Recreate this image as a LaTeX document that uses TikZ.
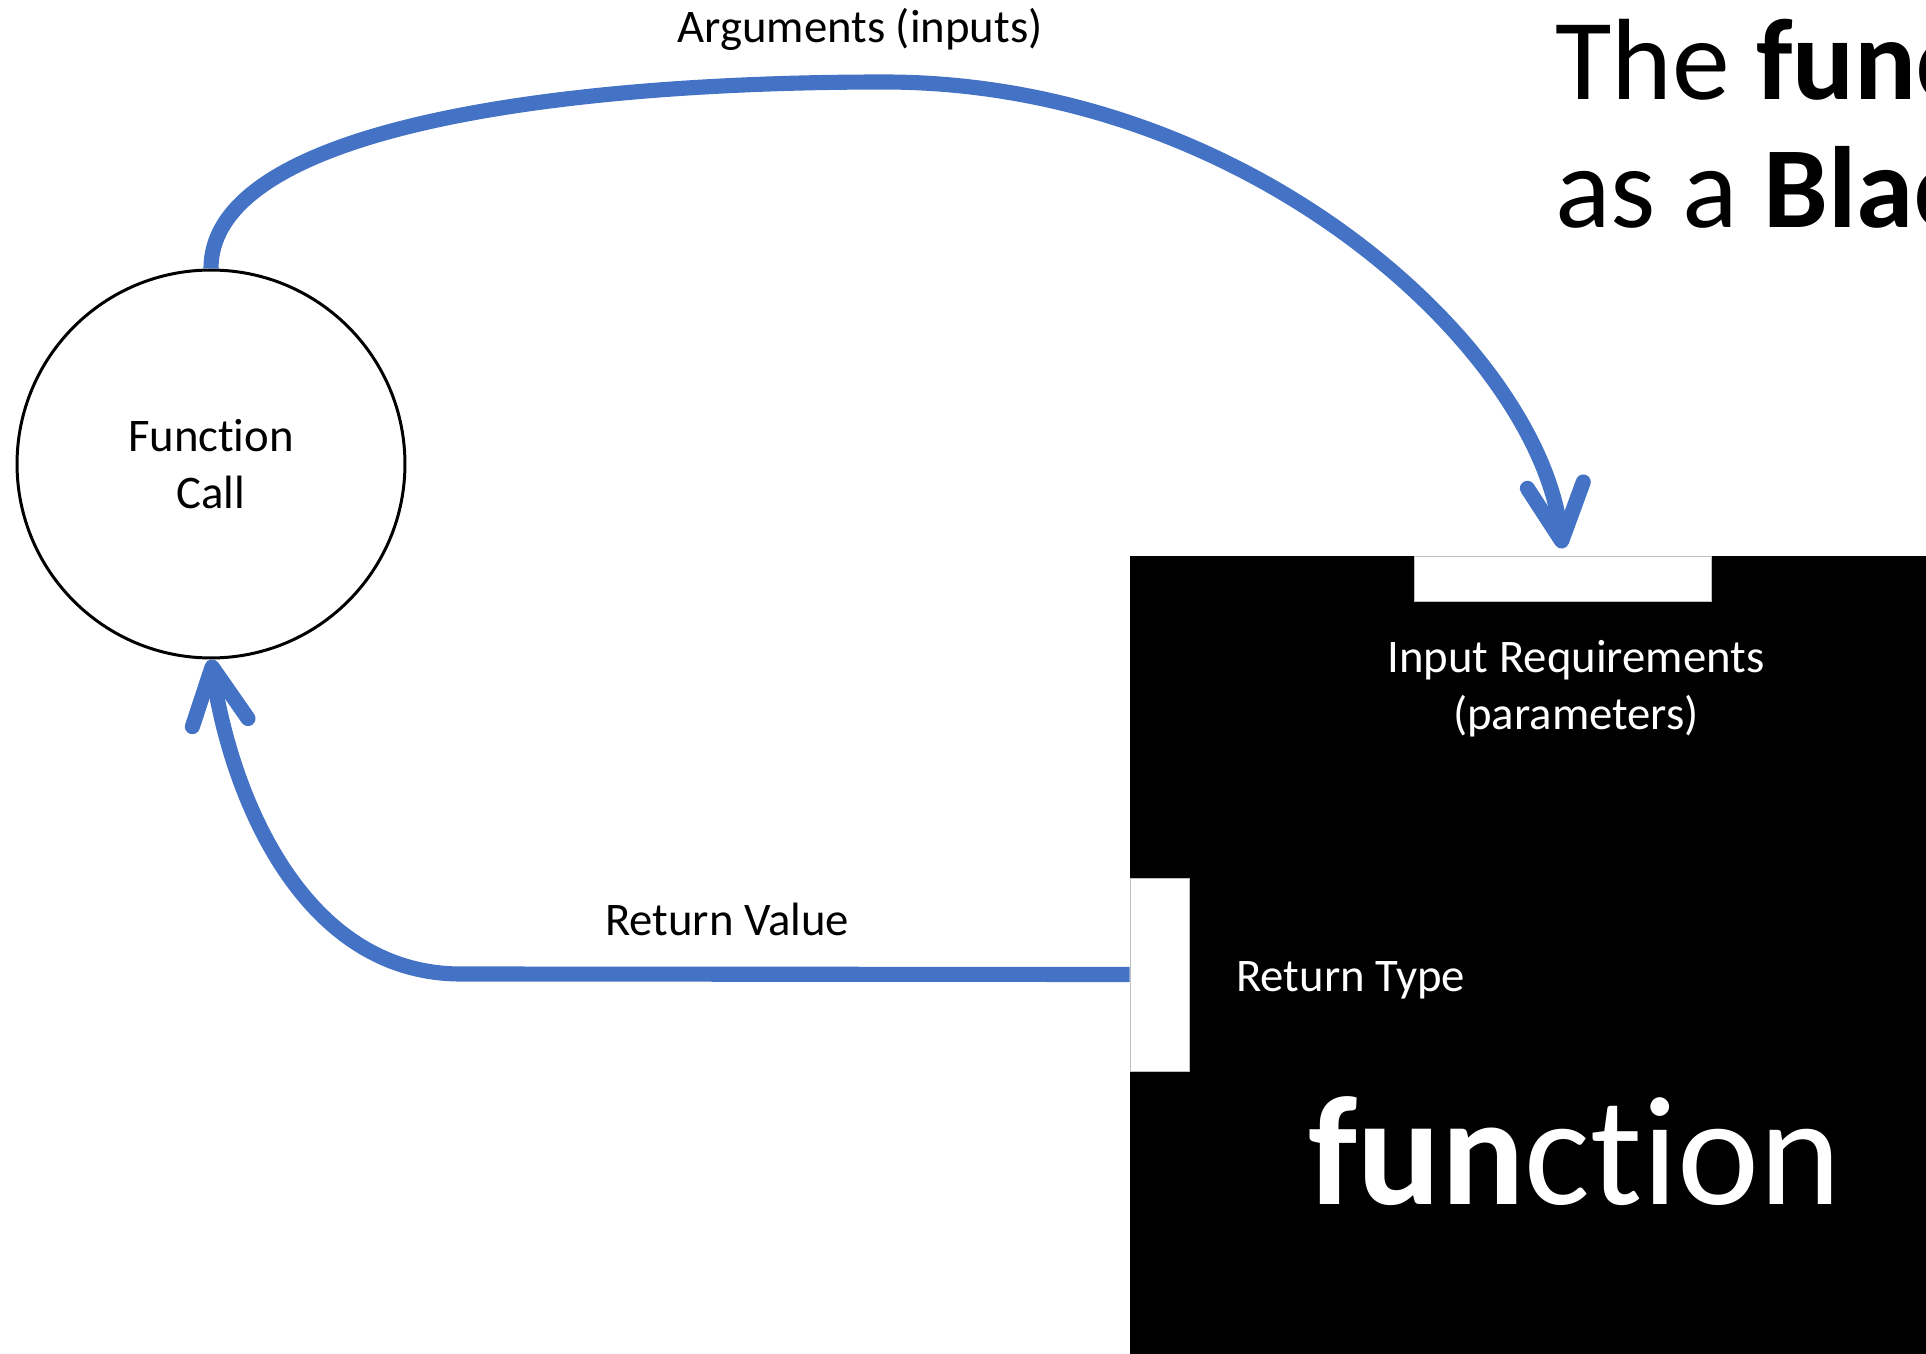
\documentclass[tikz,border=0pt]{standalone}
\usepackage{fontspec}
\setmainfont[Ligatures={NoCommon,NoContextual,NoRare},Contextuals={NoAlternate},RawFeature={-liga;-clig;-calt;-dlig}]{Carlito}
\usetikzlibrary{arrows.meta,fit}
\definecolor{arrowblue}{HTML}{4472C4}
\begin{document}
\begin{tikzpicture}[x=0.02cm,y=-0.02cm,
  flow/.style={draw=arrowblue, line width=8.6pt, -{Straight Barb[length=32pt,width=32pt,round]}},
  lbl/.style={font=\fontsize{26.6pt}{32.6pt}\selectfont, inner sep=0pt, align=center},
  wlbl/.style={lbl, text=white},
  titlefont/.style={font=\fontsize{65.8pt}{72.6pt}\selectfont, inner sep=0pt, anchor=base west},
  slot/.style={fill=white, draw=black!25, line width=0.5pt, inner sep=0pt},
  blackbox/.style={fill=black, inner sep=0pt},
  callnode/.style={circle, draw=black, line width=1.7pt, fill=white, minimum size=7.76cm, inner sep=0pt, align=center, font=\fontsize{26.6pt}{32.6pt}\selectfont}
]
\useasboundingbox (0,0) rectangle (1926,1354);
\clip (0,0) rectangle (1926,1354);

% black box and its slots
\node[blackbox, fit={(1130,556) (1926,1354)}] (box) {};
\node[slot, fit={(1414,556) (1711,601)}] (inslot) {};
\node[slot, fit={(1130,878) (1189,1071)}] (retslot) {};

% function call
\node[callnode] (call) at (211,464) {Function\\Call};

% connectors
\draw[flow] (call.north) .. controls (211,130) and (550,82) .. (884,82)
  .. controls (1250,82) and (1540,350) .. ([yshift=4pt]inslot.north);
\draw[flow] (retslot.west) -- (461,974) .. controls (300,974) and (230,790) .. (call.south);

% labels
\node[lbl] (args) at (860,29) {Arguments (inputs)};
\node[lbl] (retval) at (727,919) {Return Value};
\node[wlbl] (inreq) at (1576,689) {Input Requirements\\(parameters)};
\node[wlbl, anchor=west] (rettype) at (1236,980) {Return Type};
\node[text=white, inner sep=0pt, anchor=base, font=\fontsize{88.4pt}{100pt}\selectfont] (fname) at (1575,1204) {\textbf{fun}ction};

% title
\node[titlefont] (title1) at (1555,100) {The \textbf{function}};
\node[titlefont] (title2) at (1555,228) {as a \textbf{Black Box}};
\end{tikzpicture}
\end{document}
